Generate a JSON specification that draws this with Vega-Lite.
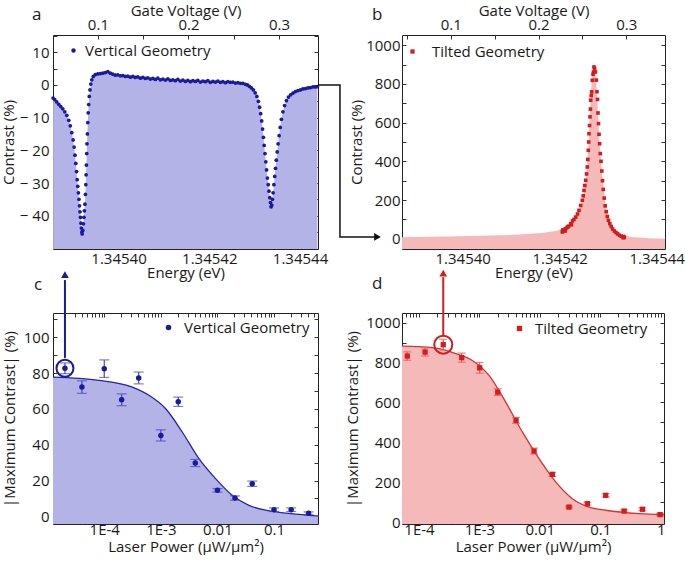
{
"$schema": "https://vega.github.io/schema/vega-lite/v6.json",
"background": "white",
"padding": {"left": 0, "top": 2, "right": 0, "bottom": 0},
"datasets": {
"aPts": [
{"e":1.34538492,"c":-4.0},{"e":1.34538529,"c":-4.5},{"e":1.34538573,"c":-5.2},{"e":1.34538617,"c":-5.9},{"e":1.34538662,"c":-6.6},{"e":1.34538706,"c":-7.3},{"e":1.3453875,"c":-8.2},{"e":1.34538794,"c":-9.3},{"e":1.34538838,"c":-10.8},{"e":1.34538871,"c":-12.5},{"e":1.34538904,"c":-14.6},{"e":1.34538933,"c":-16.8},{"e":1.34538955,"c":-19.0},{"e":1.34538975,"c":-21.5},{"e":1.34538992,"c":-24.0},{"e":1.34539008,"c":-26.5},{"e":1.34539023,"c":-29.0},{"e":1.34539036,"c":-31.0},{"e":1.3453905,"c":-33.0},{"e":1.34539063,"c":-35.0},{"e":1.34539074,"c":-37.0},{"e":1.34539085,"c":-38.8},{"e":1.34539096,"c":-40.5},{"e":1.34539107,"c":-42.3},{"e":1.34539116,"c":-43.8},{"e":1.34539125,"c":-45.0},{"e":1.34539133,"c":-45.6},{"e":1.34539147,"c":-44.5},{"e":1.3453916,"c":-42.5},{"e":1.34539171,"c":-40.5},{"e":1.34539182,"c":-38.5},{"e":1.34539193,"c":-36.5},{"e":1.34539204,"c":-33.5},{"e":1.34539213,"c":-30.5},{"e":1.34539219,"c":-27.5},{"e":1.34539226,"c":-24.5},{"e":1.34539233,"c":-21.0},{"e":1.34539239,"c":-18.0},{"e":1.34539248,"c":-15.0},{"e":1.34539257,"c":-11.5},{"e":1.34539266,"c":-8.5},{"e":1.34539277,"c":-6.0},{"e":1.3453929,"c":-3.5},{"e":1.34539305,"c":-1.5},{"e":1.34539323,"c":0.3},{"e":1.34539345,"c":1.6},{"e":1.34539378,"c":2.6},{"e":1.34539422,"c":3.2},
{"e":1.34539477,"c":3.4},{"e":1.34539533,"c":3.5},{"e":1.34539588,"c":3.6},{"e":1.34539643,"c":3.8},{"e":1.34539698,"c":4.1},{"e":1.34539753,"c":3.6},{"e":1.34539808,"c":3.3},{"e":1.34539863,"c":3.0},{"e":1.34539918,"c":3.1},{"e":1.34539974,"c":2.8},{"e":1.34540029,"c":2.9},{"e":1.34540084,"c":2.6},{"e":1.34540139,"c":2.7},{"e":1.34540194,"c":2.4},{"e":1.34540249,"c":2.6},{"e":1.34540304,"c":2.3},{"e":1.34540359,"c":2.5},{"e":1.34540415,"c":2.1},{"e":1.3454047,"c":2.3},{"e":1.34540525,"c":2.0},{"e":1.3454058,"c":2.2},{"e":1.34540635,"c":1.8},{"e":1.3454069,"c":2.0},{"e":1.34540745,"c":1.7},{"e":1.345408,"c":2.1},{"e":1.34540856,"c":1.6},{"e":1.34540911,"c":1.8},{"e":1.34540966,"c":1.5},{"e":1.34541021,"c":1.9},{"e":1.34541076,"c":1.4},{"e":1.34541131,"c":1.6},{"e":1.34541186,"c":1.3},{"e":1.34541241,"c":1.7},{"e":1.34541297,"c":1.2},{"e":1.34541352,"c":1.5},{"e":1.34541407,"c":1.1},{"e":1.34541462,"c":1.4},{"e":1.34541517,"c":1.0},{"e":1.34541572,"c":1.3},{"e":1.34541627,"c":1.1},{"e":1.34541682,"c":1.4},{"e":1.34541738,"c":0.9},{"e":1.34541793,"c":1.2},{"e":1.34541848,"c":1.0},{"e":1.34541903,"c":1.3},{"e":1.34541958,"c":0.8},{"e":1.34542013,"c":1.1},{"e":1.34542068,"c":0.9},{"e":1.34542123,"c":1.2},{"e":1.34542179,"c":0.8},{"e":1.34542234,"c":1.0},{"e":1.34542289,"c":0.7},{"e":1.34542344,"c":1.0},{"e":1.34542399,"c":0.8},{"e":1.34542454,"c":0.9},{"e":1.34542509,"c":0.6},{"e":1.34542564,"c":0.7},{"e":1.3454262,"c":0.5},{"e":1.34542675,"c":0.5},{"e":1.3454273,"c":0.2},{"e":1.34542774,"c":0.0},{"e":1.34542818,"c":-0.4},{"e":1.34542862,"c":-0.9},{"e":1.34542906,"c":-1.5},
{"e":1.34542946,"c":-2.4},{"e":1.34542983,"c":-3.5},{"e":1.34543016,"c":-5.0},{"e":1.34543043,"c":-6.8},{"e":1.34543067,"c":-8.8},{"e":1.34543089,"c":-11.0},{"e":1.34543109,"c":-13.5},{"e":1.34543127,"c":-16.0},{"e":1.34543144,"c":-18.5},{"e":1.34543162,"c":-21.0},{"e":1.3454318,"c":-23.5},{"e":1.34543197,"c":-26.0},{"e":1.34543215,"c":-28.5},{"e":1.34543233,"c":-30.5},{"e":1.3454325,"c":-32.5},{"e":1.34543268,"c":-34.5},{"e":1.34543283,"c":-36.0},{"e":1.34543296,"c":-37.3},{"e":1.3454331,"c":-36.8},{"e":1.34543325,"c":-35.0},{"e":1.34543341,"c":-33.0},{"e":1.34543358,"c":-30.5},{"e":1.34543376,"c":-28.0},{"e":1.34543394,"c":-25.5},{"e":1.34543411,"c":-23.0},{"e":1.34543431,"c":-20.5},{"e":1.34543451,"c":-18.0},{"e":1.34543473,"c":-15.5},{"e":1.34543497,"c":-13.0},{"e":1.34543524,"c":-10.5},{"e":1.34543557,"c":-8.2},{"e":1.34543594,"c":-6.3},{"e":1.34543634,"c":-4.8},{"e":1.34543678,"c":-3.7},{"e":1.34543726,"c":-3.0},{"e":1.34543777,"c":-2.5},{"e":1.34543832,"c":-2.0},{"e":1.34543887,"c":-1.7},{"e":1.34543943,"c":-1.5},{"e":1.34543998,"c":-1.2},{"e":1.34544053,"c":-1.1},{"e":1.34544108,"c":-0.9},{"e":1.34544163,"c":-0.8},{"e":1.34544218,"c":-0.6},{"e":1.34544273,"c":-0.6},{"e":1.34544317,"c":-0.5}
],
"aArrow": [{"e":1.34544329,"c":0,"i":1},{"e":1.34544814,"c":0,"i":2},{"e":1.34544814,"c":-46.5,"i":3},{"e":1.34545586,"c":-46.5,"i":4}],
"aHead": [{"e":1.34545641,"c":-46.5}],
"aGate": [{"v":0.0504},{"v":0.343}],
"bPts": [
{"e":1.34541992,"c":35},{"e":1.34542,"c":45},{"e":1.34542017,"c":42},{"e":1.34542037,"c":48},{"e":1.3454205,"c":40},{"e":1.34542062,"c":52},{"e":1.34542089,"c":58},{"e":1.3454211,"c":62},{"e":1.3454212,"c":65},{"e":1.34542165,"c":78},{"e":1.3454218,"c":72},{"e":1.34542202,"c":92},{"e":1.34542233,"c":100},{"e":1.34542268,"c":112},{"e":1.34542305,"c":128},{"e":1.34542336,"c":147},{"e":1.34542371,"c":172},{"e":1.34542404,"c":199},{"e":1.34542423,"c":222},{"e":1.34542439,"c":250},{"e":1.34542456,"c":275},{"e":1.34542474,"c":302},{"e":1.34542491,"c":335},{"e":1.34542507,"c":371},{"e":1.34542518,"c":410},{"e":1.34542528,"c":457},{"e":1.34542536,"c":500},{"e":1.34542542,"c":543},{"e":1.34542553,"c":585},{"e":1.34542563,"c":630},{"e":1.34542571,"c":670},{"e":1.34542577,"c":716},{"e":1.34542588,"c":740},{"e":1.34542598,"c":759},{"e":1.3454261,"c":819},{"e":1.34542625,"c":850},{"e":1.34542635,"c":862},{"e":1.34542645,"c":888},{"e":1.34542658,"c":880},{"e":1.34542676,"c":862},{"e":1.34542693,"c":820},{"e":1.34542707,"c":760},{"e":1.34542718,"c":720},{"e":1.34542728,"c":650},{"e":1.34542738,"c":595},{"e":1.34542749,"c":540},{"e":1.34542761,"c":491},{"e":1.34542775,"c":440},{"e":1.3454279,"c":400},{"e":1.34542806,"c":350},{"e":1.34542821,"c":300},{"e":1.34542837,"c":255},{"e":1.34542856,"c":210},{"e":1.34542876,"c":170},{"e":1.34542897,"c":140},{"e":1.3454292,"c":115},{"e":1.34542944,"c":95},{"e":1.34542971,"c":78},{"e":1.34543,"c":63},{"e":1.34543031,"c":50},{"e":1.34543064,"c":40},{"e":1.34543099,"c":32},{"e":1.34543134,"c":25},{"e":1.34543171,"c":18},{"e":1.34543208,"c":13},{"e":1.34543243,"c":10},{"e":1.3454325,"c":5},{"e":1.3454326,"c":12},{"e":1.3454327,"c":7}
],
"bFit": [
{"e":1.34538687,"c":8},{"e":1.34539037,"c":9},{"e":1.34539449,"c":11},{"e":1.34539862,"c":13},{"e":1.34540274,"c":15},{"e":1.34540687,"c":18},{"e":1.34541099,"c":22},{"e":1.34541408,"c":27},{"e":1.34541718,"c":35},{"e":1.34541924,"c":45},{"e":1.34542027,"c":55},{"e":1.3454213,"c":70},{"e":1.34542233,"c":95},{"e":1.34542336,"c":140},{"e":1.34542398,"c":190},{"e":1.3454246,"c":280},{"e":1.34542501,"c":380},{"e":1.34542542,"c":540},{"e":1.34542573,"c":700},{"e":1.34542604,"c":830},{"e":1.34542635,"c":875},{"e":1.34542656,"c":880},{"e":1.34542676,"c":850},{"e":1.34542707,"c":740},{"e":1.34542749,"c":540},{"e":1.3454279,"c":400},{"e":1.34542831,"c":290},{"e":1.34542872,"c":200},{"e":1.34542913,"c":140},{"e":1.34542955,"c":100},{"e":1.34543017,"c":65},{"e":1.34543099,"c":38},{"e":1.34543202,"c":22},{"e":1.34543367,"c":12},{"e":1.34543573,"c":6},{"e":1.3454378,"c":3},{"e":1.34544109,"c":0}
],
"bGate": [{"v":0.0445},{"v":0.3441}],
"cPts": [
{"p":0.0000202,"c":82.7,"lo":79.7,"hi":85.7},{"p":0.0000403,"c":72.2,"lo":68.7,"hi":75.7},{"p":0.0001,"c":82.5,"lo":77.6,"hi":87.4},{"p":0.000203,"c":65.1,"lo":61.8,"hi":68.4},{"p":0.000406,"c":77.3,"lo":74.0,"hi":80.6},{"p":0.001,"c":45.2,"lo":42.1,"hi":48.3},{"p":0.00203,"c":64.0,"lo":61.4,"hi":66.6},{"p":0.00406,"c":29.8,"lo":27.8,"hi":31.8},{"p":0.01,"c":14.5,"lo":13.5,"hi":15.5},{"p":0.0204,"c":10.2,"lo":9.0,"hi":11.4},{"p":0.0412,"c":18.2,"lo":16.7,"hi":19.7},{"p":0.1,"c":3.7,"lo":2.7,"hi":4.7},{"p":0.201,"c":3.7,"lo":2.7,"hi":4.7},{"p":0.408,"c":1.7,"lo":0.9,"hi":2.5}
],
"cFit": [
{"p":0.00001242,"c":77.8},{"p":0.0000806,"c":76},{"p":0.000313,"c":72.2},{"p":0.000617,"c":67.6},{"p":0.00122,"c":60.1},{"p":0.00239,"c":47.1},{"p":0.00471,"c":32.2},{"p":0.00929,"c":21},{"p":0.01825,"c":11.7},{"p":0.036,"c":6.1},{"p":0.0711,"c":3.4},{"p":0.275,"c":1.1},{"p":0.599,"c":0.2}
],
"cRing": [{"p":0.0000202,"c":82.7}],
"cArrow": [{"p":0.0000202,"c1":88.5,"c2":132}],
"cHead": [{"p":0.0000202,"c":135.1}],
"dPts": [
{"p":0.000064,"c":833,"lo":812,"hi":854},{"p":0.000126,"c":853,"lo":833,"hi":873},{"p":0.000252,"c":890,"lo":863,"hi":917},{"p":0.000509,"c":825,"lo":802,"hi":848},{"p":0.00101,"c":774,"lo":747,"hi":801},{"p":0.00201,"c":652,"lo":635,"hi":669},{"p":0.00404,"c":510,"lo":495,"hi":525},{"p":0.00802,"c":356,"lo":341,"hi":371},{"p":0.0161,"c":239,"lo":229,"hi":249},{"p":0.0304,"c":75,"lo":70,"hi":80},{"p":0.0611,"c":92,"lo":85,"hi":99},{"p":0.123,"c":134,"lo":126,"hi":142},{"p":0.248,"c":55,"lo":49,"hi":61},{"p":0.498,"c":64,"lo":57,"hi":71},{"p":0.977,"c":37,"lo":31,"hi":43}
],
"dFit": [
{"p":0.0000523,"c":883},{"p":0.0001,"c":880},{"p":0.000214,"c":870},{"p":0.000406,"c":845},{"p":0.000762,"c":811},{"p":0.00144,"c":736},{"p":0.00272,"c":602},{"p":0.00513,"c":452},{"p":0.0097,"c":318},{"p":0.0183,"c":201},{"p":0.0345,"c":117},{"p":0.0653,"c":75},{"p":0.123,"c":59},{"p":0.439,"c":42},{"p":1.134,"c":37}
],
"dRing": [{"p":0.000252,"c":890}],
"dArrow": [{"p":0.000252,"c1":936,"c2":1229}],
"dHead": [{"p":0.000252,"c":1249}]
},
"config": {
"font": "Open Sans",
"view": {"stroke": "#222", "strokeWidth": 1},
"axis": {"grid": false, "domain": false, "tickSize": -4, "tickColor": "#333", "tickWidth": 1, "labelFont": "Open Sans", "labelFontSize": 15, "labelColor": "#1a1a1a", "titleFont": "Open Sans", "titleFontSize": 15, "titleFontWeight": "normal", "titleColor": "#1a1a1a", "labelOverlap": false, "labelFlush": false, "labelPadding": 6},
"legend": {"labelFont": "Open Sans", "labelFontSize": 15, "labelColor": "#1a1a1a", "padding": 0, "orient": "none"},
"title": {"anchor": "start", "frame": "group", "fontSize": 17, "fontWeight": "normal", "color": "#1a1a1a", "font": "Open Sans"}
},
"columns": 2,
"spacing": {"row": 64, "column": 84},
"bounds": "flush",
"resolve": {"scale": {"x": "independent", "y": "independent", "color": "independent"}, "legend": {"color": "independent"}},
"concat": [
{
"width": 265, "height": 214,
"title": {"text": "a", "dx": -21, "offset": -21},
"resolve": {"scale": {"x": "independent"}, "axis": {"y": "independent"}},
"layer": [
{"data": {"name": "aPts"}, "mark": {"type": "area", "color": "#b3b3e8", "clip": true},
 "encoding": {
  "x": {"field": "e", "type": "quantitative", "scale": {"domain": [1.3453849, 1.3454433], "nice": false, "zero": false},
        "axis": {"title": "Energy (eV)", "labelPadding": 6, "labelOffset": -3, "titlePadding": -1, "values": [1.34539, 1.3454, 1.34541, 1.34542, 1.34543, 1.34544], "labelExpr": "round(datum.value*100000)%2==0 ? format(datum.value,'.5f') : ''"}},
  "y": {"field": "c", "type": "quantitative", "scale": {"domain": [-50.2, 15.3], "nice": false, "zero": false},
        "axis": {"title": "Contrast (%)", "labelPadding": 8, "titlePadding": 3, "values": [-45,-40,-35,-30,-25,-20,-15,-10,-5,0,5,10,15], "labelExpr": "datum.value%10!=0 ? '' : (datum.value<0 ? '− '+abs(datum.value) : ''+datum.value)"}},
  "y2": {"datum": -60}
 }},
{"data": {"name": "aPts"}, "mark": {"type": "circle", "size": 14, "opacity": 1},
 "encoding": {
  "x": {"field": "e", "type": "quantitative", "scale": {"domain": [1.3453849, 1.3454433], "nice": false, "zero": false}, "axis": null},
  "y": {"field": "c", "type": "quantitative", "scale": {"domain": [-50.2, 15.3], "nice": false, "zero": false}, "axis": null},
  "color": {"datum": "Vertical Geometry", "type": "nominal", "scale": {"domain": ["Vertical Geometry"], "range": ["#1a1a9e"]}, "legend": {"title": null, "legendX": 13, "legendY": 8, "symbolSize": 20, "labelOffset": 4}}
 }},
{"data": {"name": "aArrow"}, "mark": {"type": "line", "color": "#111", "strokeWidth": 1.5, "clip": false},
 "encoding": {
  "x": {"field": "e", "type": "quantitative", "scale": {"domain": [1.3453849, 1.3454433], "nice": false, "zero": false}, "axis": null},
  "y": {"field": "c", "type": "quantitative", "scale": {"domain": [-50.2, 15.3], "nice": false, "zero": false},
        "axis": {"orient": "right", "labels": false, "title": null, "values": [-45,-40,-35,-30,-25,-20,-15,-10,-5,0,5,10,15]}},
  "order": {"field": "i", "type": "quantitative"}
 }},
{"data": {"name": "aHead"}, "mark": {"type": "point", "shape": "triangle-right", "filled": true, "size": 60, "color": "#111", "opacity": 1},
 "encoding": {
  "x": {"field": "e", "type": "quantitative", "scale": {"domain": [1.3453849, 1.3454433], "nice": false, "zero": false}, "axis": null},
  "y": {"field": "c", "type": "quantitative", "scale": {"domain": [-50.2, 15.3], "nice": false, "zero": false}, "axis": null}
 }},
{"data": {"name": "aGate"}, "mark": {"type": "point", "opacity": 0},
 "encoding": {
  "x": {"field": "v", "type": "quantitative", "scale": {"domain": [0.0504, 0.343], "nice": false, "zero": false},
        "axis": {"orient": "top", "title": "Gate Voltage (V)", "labelPadding": 7, "titlePadding": -1, "values": [0.05, 0.1, 0.15, 0.2, 0.25, 0.3], "labelExpr": "round(datum.value*100)%10==0 ? format(datum.value,'.1f') : ''"}}
 }}
]
},
{
"width": 263, "height": 214,
"title": {"text": "b", "dx": -30, "offset": -21},
"resolve": {"scale": {"x": "independent"}, "axis": {"y": "independent"}},
"layer": [
{"data": {"name": "bFit"}, "mark": {"type": "area", "color": "#f5b9b9", "clip": true, "interpolate": "monotone"},
 "encoding": {
  "x": {"field": "e", "type": "quantitative", "scale": {"domain": [1.34538687, 1.34544109], "nice": false, "zero": false},
        "axis": {"title": "Energy (eV)", "labelPadding": 6, "labelOffset": -3, "titlePadding": -1, "values": [1.34539, 1.3454, 1.34541, 1.34542, 1.34543, 1.34544], "labelExpr": "round(datum.value*100000)%2==0 ? format(datum.value,'.5f') : ''"}},
  "y": {"field": "c", "type": "quantitative", "scale": {"domain": [-53, 1053], "nice": false, "zero": false},
        "axis": {"title": "Contrast (%)", "labelPadding": 6, "titlePadding": 1, "values": [0,100,200,300,400,500,600,700,800,900,1000], "labelExpr": "datum.value%200!=0 ? '' : ''+datum.value"}},
  "y2": {"datum": -100}
 }},
{"data": {"name": "bPts"}, "mark": {"type": "square", "size": 13, "opacity": 1},
 "encoding": {
  "x": {"field": "e", "type": "quantitative", "scale": {"domain": [1.34538687, 1.34544109], "nice": false, "zero": false}, "axis": null},
  "y": {"field": "c", "type": "quantitative", "scale": {"domain": [-53, 1053], "nice": false, "zero": false},
        "axis": {"orient": "right", "labels": false, "title": null, "values": [0,100,200,300,400,500,600,700,800,900,1000]}},
  "color": {"datum": "Tilted Geometry", "type": "nominal", "scale": {"domain": ["Tilted Geometry"], "range": ["#d41c1c"]}, "legend": {"title": null, "legendX": 3, "legendY": 9, "symbolSize": 18, "labelOffset": 12}}
 }},
{"data": {"name": "bGate"}, "mark": {"type": "point", "opacity": 0},
 "encoding": {
  "x": {"field": "v", "type": "quantitative", "scale": {"domain": [0.0445, 0.3441], "nice": false, "zero": false},
        "axis": {"orient": "top", "title": "Gate Voltage (V)", "labelPadding": 7, "titlePadding": -1, "values": [0.05, 0.1, 0.15, 0.2, 0.25, 0.3], "labelExpr": "round(datum.value*100)%10==0 ? format(datum.value,'.1f') : ''"}}
 }}
]
},
{
"width": 265, "height": 211,
"title": {"text": "c", "dx": -19, "offset": -23},
"resolve": {"axis": {"x": "independent", "y": "independent"}},
"layer": [
{"data": {"name": "cFit"}, "mark": {"type": "area", "color": "#b3b3e8", "clip": true, "interpolate": "monotone"},
 "encoding": {
  "x": {"field": "p", "type": "quantitative", "scale": {"type": "log", "domain": [0.00001242, 0.599], "nice": false},
        "axis": {"title": "Laser Power (µW/µm²)", "labelPadding": 2, "titlePadding": 2, "values": [0.00002,0.00003,0.00004,0.00005,0.00006,0.00007,0.00008,0.00009,0.0001,0.0002,0.0003,0.0004,0.0005,0.0006,0.0007,0.0008,0.0009,0.001,0.002,0.003,0.004,0.005,0.006,0.007,0.008,0.009,0.01,0.02,0.03,0.04,0.05,0.06,0.07,0.08,0.09,0.1,0.2,0.3,0.4,0.5], "labelExpr": "datum.value==0.0001?'1E-4':datum.value==0.001?'1E-3':datum.value==0.01?'0.01':datum.value==0.1?'0.1':datum.value==1?'1':''"}},
  "y": {"field": "c", "type": "quantitative", "scale": {"domain": [-4.3, 113.6], "nice": false, "zero": false},
        "axis": {"title": "|Maximum Contrast|  (%)", "labelPadding": 8, "titlePadding": 6, "values": [0,10,20,30,40,50,60,70,80,90,100,110], "labelExpr": "datum.value%20!=0 ? '' : ''+datum.value"}},
  "y2": {"datum": -10}
 }},
{"data": {"name": "cFit"}, "mark": {"type": "line", "color": "#2525aa", "strokeWidth": 1.3, "interpolate": "monotone", "clip": true},
 "encoding": {
  "x": {"field": "p", "type": "quantitative", "scale": {"type": "log", "domain": [0.00001242, 0.599], "nice": false}, "axis": null},
  "y": {"field": "c", "type": "quantitative", "scale": {"domain": [-4.3, 113.6], "nice": false, "zero": false}, "axis": null}
 }},
{"data": {"name": "cPts"}, "mark": {"type": "errorbar", "color": "#4747c4", "thickness": 1.2, "ticks": {"size": 10, "thickness": 1.2}},
 "encoding": {
  "x": {"field": "p", "type": "quantitative", "scale": {"type": "log", "domain": [0.00001242, 0.599], "nice": false}, "axis": null},
  "y": {"field": "lo", "type": "quantitative", "scale": {"domain": [-4.3, 113.6], "nice": false, "zero": false}, "axis": null},
  "y2": {"field": "hi"}
 }},
{"data": {"name": "cPts"}, "mark": {"type": "circle", "size": 30, "opacity": 1},
 "encoding": {
  "x": {"field": "p", "type": "quantitative", "scale": {"type": "log", "domain": [0.00001242, 0.599], "nice": false}, "axis": null},
  "y": {"field": "c", "type": "quantitative", "scale": {"domain": [-4.3, 113.6], "nice": false, "zero": false}, "axis": null},
  "color": {"datum": "Vertical Geometry", "type": "nominal", "scale": {"domain": ["Vertical Geometry"], "range": ["#1a1a9e"]}, "legend": {"title": null, "legendX": 108, "legendY": 7, "symbolSize": 30, "labelOffset": 8}}
 }},
{"data": {"name": "cRing"}, "mark": {"type": "point", "filled": false, "size": 289, "strokeWidth": 2, "color": "#1a1a9e", "opacity": 1},
 "encoding": {
  "x": {"field": "p", "type": "quantitative", "scale": {"type": "log", "domain": [0.00001242, 0.599], "nice": false}, "axis": null},
  "y": {"field": "c", "type": "quantitative", "scale": {"domain": [-4.3, 113.6], "nice": false, "zero": false}, "axis": null}
 }},
{"data": {"name": "cArrow"}, "mark": {"type": "rule", "color": "#1a1a9e", "strokeWidth": 2},
 "encoding": {
  "x": {"field": "p", "type": "quantitative", "scale": {"type": "log", "domain": [0.00001242, 0.599], "nice": false},
        "axis": {"orient": "top", "labels": false, "title": null, "values": [0.00002,0.00003,0.00004,0.00005,0.00006,0.00007,0.00008,0.00009,0.0001,0.0002,0.0003,0.0004,0.0005,0.0006,0.0007,0.0008,0.0009,0.001,0.002,0.003,0.004,0.005,0.006,0.007,0.008,0.009,0.01,0.02,0.03,0.04,0.05,0.06,0.07,0.08,0.09,0.1,0.2,0.3,0.4,0.5]}},
  "y": {"field": "c1", "type": "quantitative", "scale": {"domain": [-4.3, 113.6], "nice": false, "zero": false},
        "axis": {"orient": "right", "labels": false, "title": null, "values": [0,10,20,30,40,50,60,70,80,90,100,110]}},
  "y2": {"field": "c2"}
 }},
{"data": {"name": "cHead"}, "mark": {"type": "point", "shape": "triangle-up", "filled": true, "size": 60, "color": "#1a1a9e", "opacity": 1},
 "encoding": {
  "x": {"field": "p", "type": "quantitative", "scale": {"type": "log", "domain": [0.00001242, 0.599], "nice": false}, "axis": null},
  "y": {"field": "c", "type": "quantitative", "scale": {"domain": [-4.3, 113.6], "nice": false, "zero": false}, "axis": null}
 }}
]
},
{
"width": 262, "height": 211,
"title": {"text": "d", "dx": -30, "offset": -23},
"resolve": {"axis": {"x": "independent", "y": "independent"}},
"layer": [
{"data": {"name": "dFit"}, "mark": {"type": "area", "color": "#f5b9b9", "clip": true, "interpolate": "monotone"},
 "encoding": {
  "x": {"field": "p", "type": "quantitative", "scale": {"type": "log", "domain": [0.0000523, 1.134], "nice": false},
        "axis": {"title": "Laser Power (µW/µm²)", "labelPadding": 2, "titlePadding": 2, "values": [0.00006,0.00007,0.00008,0.00009,0.0001,0.0002,0.0003,0.0004,0.0005,0.0006,0.0007,0.0008,0.0009,0.001,0.002,0.003,0.004,0.005,0.006,0.007,0.008,0.009,0.01,0.02,0.03,0.04,0.05,0.06,0.07,0.08,0.09,0.1,0.2,0.3,0.4,0.5,0.6,0.7,0.8,0.9,1], "labelExpr": "datum.value==0.0001?'1E-4':datum.value==0.001?'1E-3':datum.value==0.01?'0.01':datum.value==0.1?'0.1':datum.value==1?'1':''"}},
  "y": {"field": "c", "type": "quantitative", "scale": {"domain": [-10, 1049], "nice": false, "zero": false},
        "axis": {"title": "|Maximum Contrast|  (%)", "labelPadding": 6, "titlePadding": 5, "values": [0,100,200,300,400,500,600,700,800,900,1000], "labelExpr": "datum.value%200!=0 ? '' : ''+datum.value"}},
  "y2": {"datum": -50}
 }},
{"data": {"name": "dFit"}, "mark": {"type": "line", "color": "#d93030", "strokeWidth": 1.3, "interpolate": "monotone", "clip": true},
 "encoding": {
  "x": {"field": "p", "type": "quantitative", "scale": {"type": "log", "domain": [0.0000523, 1.134], "nice": false}, "axis": null},
  "y": {"field": "c", "type": "quantitative", "scale": {"domain": [-10, 1049], "nice": false, "zero": false}, "axis": null}
 }},
{"data": {"name": "dPts"}, "mark": {"type": "errorbar", "color": "#e35a5a", "thickness": 1.2, "ticks": {"size": 8, "thickness": 1.2}},
 "encoding": {
  "x": {"field": "p", "type": "quantitative", "scale": {"type": "log", "domain": [0.0000523, 1.134], "nice": false}, "axis": null},
  "y": {"field": "lo", "type": "quantitative", "scale": {"domain": [-10, 1049], "nice": false, "zero": false}, "axis": null},
  "y2": {"field": "hi"}
 }},
{"data": {"name": "dPts"}, "mark": {"type": "square", "size": 28, "opacity": 1},
 "encoding": {
  "x": {"field": "p", "type": "quantitative", "scale": {"type": "log", "domain": [0.0000523, 1.134], "nice": false}, "axis": null},
  "y": {"field": "c", "type": "quantitative", "scale": {"domain": [-10, 1049], "nice": false, "zero": false}, "axis": null},
  "color": {"datum": "Tilted Geometry", "type": "nominal", "scale": {"domain": ["Tilted Geometry"], "range": ["#d41c1c"]}, "legend": {"title": null, "legendX": 110, "legendY": 8, "symbolSize": 28, "labelOffset": 8}}
 }},
{"data": {"name": "dRing"}, "mark": {"type": "point", "filled": false, "size": 324, "strokeWidth": 2, "color": "#d41c1c", "opacity": 1},
 "encoding": {
  "x": {"field": "p", "type": "quantitative", "scale": {"type": "log", "domain": [0.0000523, 1.134], "nice": false}, "axis": null},
  "y": {"field": "c", "type": "quantitative", "scale": {"domain": [-10, 1049], "nice": false, "zero": false}, "axis": null}
 }},
{"data": {"name": "dArrow"}, "mark": {"type": "rule", "color": "#d41c1c", "strokeWidth": 2},
 "encoding": {
  "x": {"field": "p", "type": "quantitative", "scale": {"type": "log", "domain": [0.0000523, 1.134], "nice": false},
        "axis": {"orient": "top", "labels": false, "title": null, "values": [0.00006,0.00007,0.00008,0.00009,0.0001,0.0002,0.0003,0.0004,0.0005,0.0006,0.0007,0.0008,0.0009,0.001,0.002,0.003,0.004,0.005,0.006,0.007,0.008,0.009,0.01,0.02,0.03,0.04,0.05,0.06,0.07,0.08,0.09,0.1,0.2,0.3,0.4,0.5,0.6,0.7,0.8,0.9,1]}},
  "y": {"field": "c1", "type": "quantitative", "scale": {"domain": [-10, 1049], "nice": false, "zero": false},
        "axis": {"orient": "right", "labels": false, "title": null, "values": [0,100,200,300,400,500,600,700,800,900,1000]}},
  "y2": {"field": "c2"}
 }},
{"data": {"name": "dHead"}, "mark": {"type": "point", "shape": "triangle-up", "filled": true, "size": 60, "color": "#d41c1c", "opacity": 1},
 "encoding": {
  "x": {"field": "p", "type": "quantitative", "scale": {"type": "log", "domain": [0.0000523, 1.134], "nice": false}, "axis": null},
  "y": {"field": "c", "type": "quantitative", "scale": {"domain": [-10, 1049], "nice": false, "zero": false}, "axis": null}
 }}
]
}
]
}
